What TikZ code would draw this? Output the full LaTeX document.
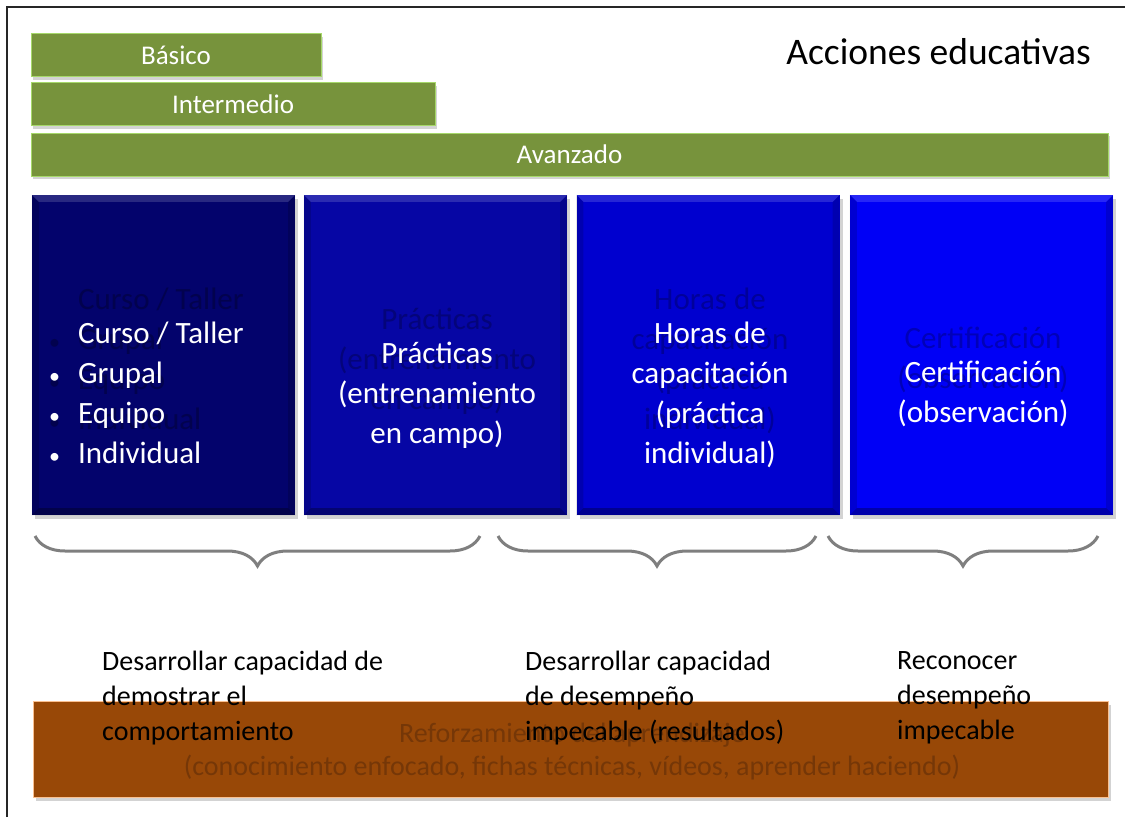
\documentclass[tikz,border=0pt]{standalone}
\usepackage{fontspec}
\setmainfont{Carlito}
\usetikzlibrary{positioning, calc, shadows, decorations.pathreplacing}
\definecolor{lvlgreen}{HTML}{77933C}
\definecolor{lvledge}{HTML}{A6D86A}
\definecolor{actone}{HTML}{03036C}
\definecolor{acttwo}{HTML}{0606A4}
\definecolor{actthree}{HTML}{0000CF}
\definecolor{actfour}{HTML}{0000F6}
\definecolor{ghostone}{HTML}{02024E}
\definecolor{ghosttwo}{HTML}{04047A}
\definecolor{ghostthree}{HTML}{00009A}
\definecolor{ghostfour}{HTML}{0000B8}
\definecolor{reinbrown}{HTML}{984807}
\definecolor{reinedge}{HTML}{FAC090}
\definecolor{reintext}{HTML}{753707}
\definecolor{bracegray}{HTML}{7F7F7F}
\newcommand{\smallbullet}{{\fontsize{22}{22}\selectfont\textbullet}}

\begin{document}
\begin{tikzpicture}[
        x=1pt, y=-1pt,
        level/.style={rectangle, draw=lvledge, fill=lvlgreen, line width=1pt, minimum height=43pt, inner sep=0pt, text=white, font=\fontsize{27}{32}\selectfont, drop shadow={shadow xshift=2pt, shadow yshift=-3pt, opacity=.35}},
        action/.style={rectangle, fill=#1, minimum width=263pt, minimum height=320pt, inner sep=0pt, drop shadow={shadow xshift=3pt, shadow yshift=-4pt, opacity=.35}},
        actext/.style={align=center, text=white, inner sep=0pt, font=\fontsize{31}{40}\selectfont},
        ghost/.style={align=center, text=#1, inner sep=0pt, font=\fontsize{31}{40}\selectfont},
        goal/.style={align=left, anchor=north west, inner sep=0pt, font=\fontsize{28}{35}\selectfont},
        curly/.style={decorate, decoration={brace, mirror, amplitude=30pt}, draw=bracegray, line width=3pt}
    ]
    \useasboundingbox (0,0) rectangle (1125,817);
    \draw[line width=1.5pt, black!85] (7,817) -- (7,7) -- (1125,7);

    % niveles
    \node[level, minimum width=290pt] (basico) at (176,55) {Básico};
    \node[level, minimum width=404pt] (intermedio) at (233,104) {Intermedio};
    \node[level, minimum width=1077pt] (avanzado) at (569.5,154.5) {Avanzado};
    \node[anchor=base east, inner sep=0pt, font=\fontsize{37.5}{40}\selectfont] (titulo) at (1091,64) {Acciones educativas};

    % acciones
    \node[action=actone] (curso) at (163.5,355) {};
    \node[action=acttwo] (practicas) at (435.5,355) {};
    \node[action=actthree] (horas) at (708,355) {};
    \node[action=actfour] (certif) at (981.5,355) {};
    \foreach \b in {curso, practicas, horas, certif} {
        \fill[white, opacity=.15] (\b.north west) -- (\b.north east) -- ($(\b.north east)+(-7,7)$) -- ($(\b.north west)+(7,7)$) -- cycle;
        \fill[black, opacity=.15] (\b.north west) -- ($(\b.north west)+(7,7)$) -- ($(\b.south west)+(7,-7)$) -- (\b.south west) -- cycle;
        \fill[black, opacity=.15] (\b.north east) -- ($(\b.north east)+(-7,7)$) -- ($(\b.south east)+(-7,-7)$) -- (\b.south east) -- cycle;
        \fill[black, opacity=.3] (\b.south west) -- (\b.south east) -- ($(\b.south east)+(-7,-7)$) -- ($(\b.south west)+(7,-7)$) -- cycle;
    }

    % textos sombra
    \node[ghost=ghostone, anchor=west] (curso-g) at (49,361) {\begin{tabular}{@{}l@{\hspace{18pt}}l@{}}
        & Curso / Taller\\ \smallbullet & Grupal\\ \smallbullet & Equipo\\ \smallbullet & Individual\end{tabular}};
    \node[ghost=ghosttwo] (practicas-g) at (437,361) {Prácticas\\(entrenamiento\\en campo)};
    \node[ghost=ghostthree] (horas-g) at (710,361) {Horas de\\capacitación\\(práctica\\individual)};
    \node[ghost=ghostfour] (certif-g) at (983,360) {Certificación\\(observación)};

    % textos
    \node[actext, anchor=west, align=left] (curso-t) at (49,395) {\begin{tabular}{@{}l@{\hspace{18pt}}l@{}}
        & Curso / Taller\\ \smallbullet & Grupal\\ \smallbullet & Equipo\\ \smallbullet & Individual\end{tabular}};
    \node[actext] (practicas-t) at (437,395) {Prácticas\\(entrenamiento\\en campo)};
    \node[actext] (horas-t) at (710,395) {Horas de\\capacitación\\(práctica\\individual)};
    \node[actext] (certif-t) at (983,394) {Certificación\\(observación)};

    % llaves
    \coordinate (ll1a) at (35,536);
    \coordinate (ll1b) at (480,536);
    \coordinate (ll2a) at (498,536);
    \coordinate (ll2b) at (816,536);
    \coordinate (ll3a) at (828,536);
    \coordinate (ll3b) at (1098,536);
    \draw[curly] (ll1a) -- (ll1b);
    \draw[curly] (ll2a) -- (ll2b);
    \draw[curly] (ll3a) -- (ll3b);

    % refuerzo
    \node[rectangle, draw=reinedge, fill=reinbrown, line width=1pt, minimum width=1075pt, minimum height=96pt, inner sep=0pt, drop shadow={shadow xshift=3pt, shadow yshift=-4pt, opacity=.35}] (refuerzo) at (570.5,749) {};
    \node[align=center, text=reintext, inner sep=0pt, font=\fontsize{28}{33}\selectfont] (refuerzo-t) at (572,752) {Reforzamiento del aprendizaje\\(conocimiento enfocado, fichas técnicas, vídeos, aprender haciendo)};

    % objetivos
    \node[goal] (meta1) at (102,651) {Desarrollar capacidad de\\demostrar el\\comportamiento};
    \node[goal] (meta2) at (525,651) {Desarrollar capacidad\\de desempeño\\impecable (resultados)};
    \node[goal] (meta3) at (897,651) {Reconocer\\desempeño\\impecable};
\end{tikzpicture}
\end{document}
